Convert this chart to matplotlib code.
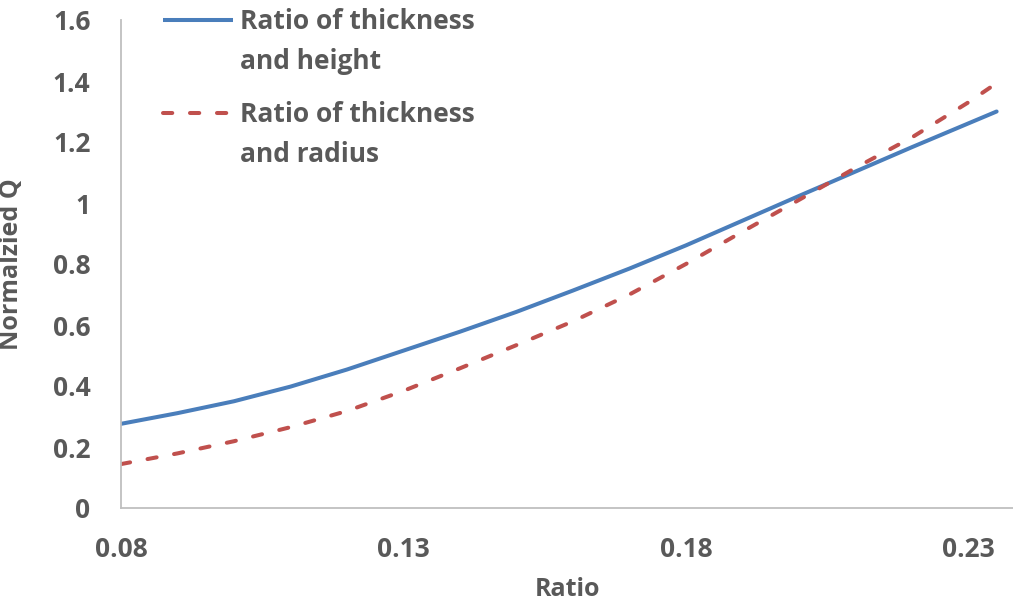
import matplotlib
matplotlib.use("Agg")
import matplotlib.pyplot as plt
from matplotlib.lines import Line2D

# Ratio values on the x axis
ratio = [0.08, 0.09, 0.10, 0.11, 0.12, 0.13, 0.14, 0.15, 0.16,
         0.17, 0.18, 0.19, 0.20, 0.21, 0.22, 0.23, 0.235]

# Normalized Q for the two geometric ratios
q_height = [0.276, 0.311, 0.350, 0.398, 0.454, 0.516, 0.578, 0.643, 0.713,
            0.785, 0.861, 0.942, 1.023, 1.103, 1.183, 1.261, 1.300]
q_radius = [0.144, 0.179, 0.219, 0.265, 0.318, 0.384, 0.458, 0.534, 0.612,
            0.700, 0.800, 0.906, 1.010, 1.115, 1.215, 1.330, 1.393]

series_labels = ["Ratio of thickness\nand height", "Ratio of thickness\nand radius"]
x_ticks = [0.08, 0.13, 0.18, 0.23]
y_ticks = [0, 0.2, 0.4, 0.6, 0.8, 1, 1.2, 1.4, 1.6]
y_tick_labels = ["0", "0.2", "0.4", "0.6", "0.8", "1", "1.2", "1.4", "1.6"]

TXT = "#595959"
BLUE = "#4A7EBB"
RED = "#C0504D"
FONT = "Open Sans"
W, H = 1013, 603

fig = plt.figure(figsize=(W / 100, H / 100), dpi=100)
ax = fig.add_axes([121 / W, (H - 508) / H, (W - 121) / W, (508 - 20) / H])

lw = 2.9
dash = (0, (2.3, 4.4))
ax.plot(ratio, q_height, color=BLUE, lw=lw, solid_capstyle="round")
ax.plot(ratio, q_radius, color=RED, lw=lw, linestyle=dash,
        dash_capstyle="round")

ax.set_xlim(0.08, 0.2379)
ax.set_ylim(0, 1.6)
ax.set_xticks(x_ticks)
ax.set_xticklabels([f"{t:.2f}" for t in x_ticks])
ax.set_yticks(y_ticks)
ax.set_yticklabels(y_tick_labels)

for s in ["top", "right"]:
    ax.spines[s].set_visible(False)
for s in ["left", "bottom"]:
    ax.spines[s].set_color("#BFBFBF")
    ax.spines[s].set_linewidth(1.3)

ax.tick_params(axis="both", length=0, labelcolor=TXT)
ax.tick_params(axis="y", pad=22)
ax.tick_params(axis="x", pad=20)
for lab in ax.get_xticklabels() + ax.get_yticklabels():
    lab.set_fontfamily(FONT)
    lab.set_fontweight("bold")
    lab.set_fontsize(19)

ax.set_xlabel("Ratio", fontsize=18, fontweight="bold", color=TXT,
              family=FONT, labelpad=10)
ax.set_ylabel("Normalzied Q", fontsize=18, fontweight="bold", color=TXT,
              family=FONT)
ax.yaxis.set_label_coords(-(121 - 24) / (W - 121), 0.5)

# Legend keys and labels placed in the upper-left of the figure
entries = [(BLUE, "-", 20, series_labels[0]), (RED, dash, 113, series_labels[1])]
for color, ls, ypix, label in entries:
    ln = Line2D([163 / W, 233 / W], [1 - ypix / H, 1 - ypix / H],
                transform=fig.transFigure, color=color, lw=lw, linestyle=ls,
                dash_capstyle="round", solid_capstyle="butt")
    fig.add_artist(ln)
    fig.text(240 / W, 1 - (ypix - 12) / H, label, ha="left", va="top",
             fontsize=19, fontweight="bold", color=TXT, family=FONT,
             linespacing=1.62)

fig.savefig("out.png", dpi=100)
